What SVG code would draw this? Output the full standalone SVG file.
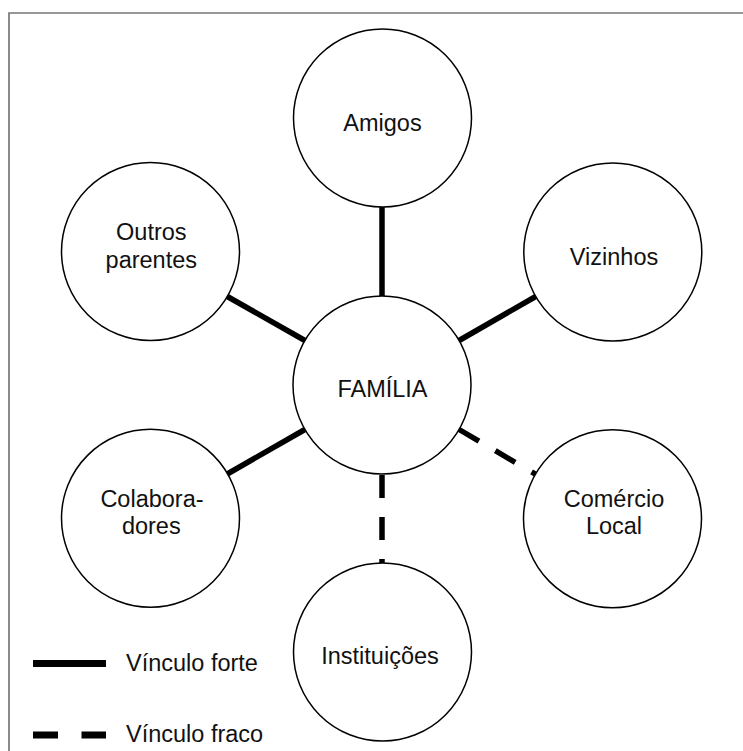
<svg xmlns="http://www.w3.org/2000/svg" width="743" height="751" viewBox="0 0 743 751">
<style>
.node circle{fill:#fff;stroke:#000;stroke-width:1.5}
text{font-family:"Liberation Sans",Arial,sans-serif;font-size:23.5px;fill:#111;text-anchor:middle}
.strong{stroke:#000;stroke-width:5.5;fill:none}
.weak{stroke:#000;stroke-width:5.5;fill:none;stroke-dasharray:23 19}
.leg{stroke:#000;stroke-width:7}
</style>
<rect width="743" height="751" fill="#fff"/>
<path d="M9,751 V13 H743" fill="none" stroke="#777" stroke-width="1.7"/>
<g id="connectors">
<line class="strong" x1="382" y1="207" x2="382" y2="296"/>
<line class="strong" x1="459.1" y1="340.5" x2="535.7" y2="296.5"/>
<line class="strong" x1="304.9" y1="340.5" x2="227.3" y2="296.5"/>
<line class="strong" x1="304.9" y1="429.5" x2="227.3" y2="474"/>
<line class="weak" x1="459.1" y1="429.5" x2="535.4" y2="474.2"/>
<line class="weak" x1="382" y1="475" x2="382" y2="563"/>
</g>
<g id="familia" class="node"><circle cx="382" cy="385" r="89"/><text x="382.5" y="397">FAMÍLIA</text></g>
<g id="amigos" class="node"><circle cx="382.5" cy="118" r="89"/><text x="382.5" y="131">Amigos</text></g>
<g id="vizinhos" class="node"><circle cx="612.8" cy="252" r="89"/><text x="614" y="265">Vizinhos</text></g>
<g id="outros" class="node"><circle cx="150.5" cy="251.5" r="89"/><text x="151.3" y="240">Outros</text><text x="151.3" y="267.5">parentes</text></g>
<g id="colaboradores" class="node"><circle cx="150.5" cy="518.3" r="89"/><text x="152" y="507.3">Colabora-</text><text x="151.3" y="534">dores</text></g>
<g id="comercio" class="node"><circle cx="612.5" cy="518.7" r="89"/><text x="614" y="506.7">Comércio</text><text x="614" y="534">Local</text></g>
<g id="instituicoes" class="node"><circle cx="382.5" cy="652" r="89"/><text x="380" y="664">Instituições</text></g>
<g id="legend">
<line class="leg" x1="33" y1="663.5" x2="106" y2="663.5"/>
<text x="126" y="671" style="text-anchor:start">Vínculo forte</text>
<line class="leg" x1="33" y1="735" x2="106" y2="735" stroke-dasharray="25 23.5"/>
<text x="126" y="742" style="text-anchor:start">Vínculo fraco</text>
</g>
</svg>
